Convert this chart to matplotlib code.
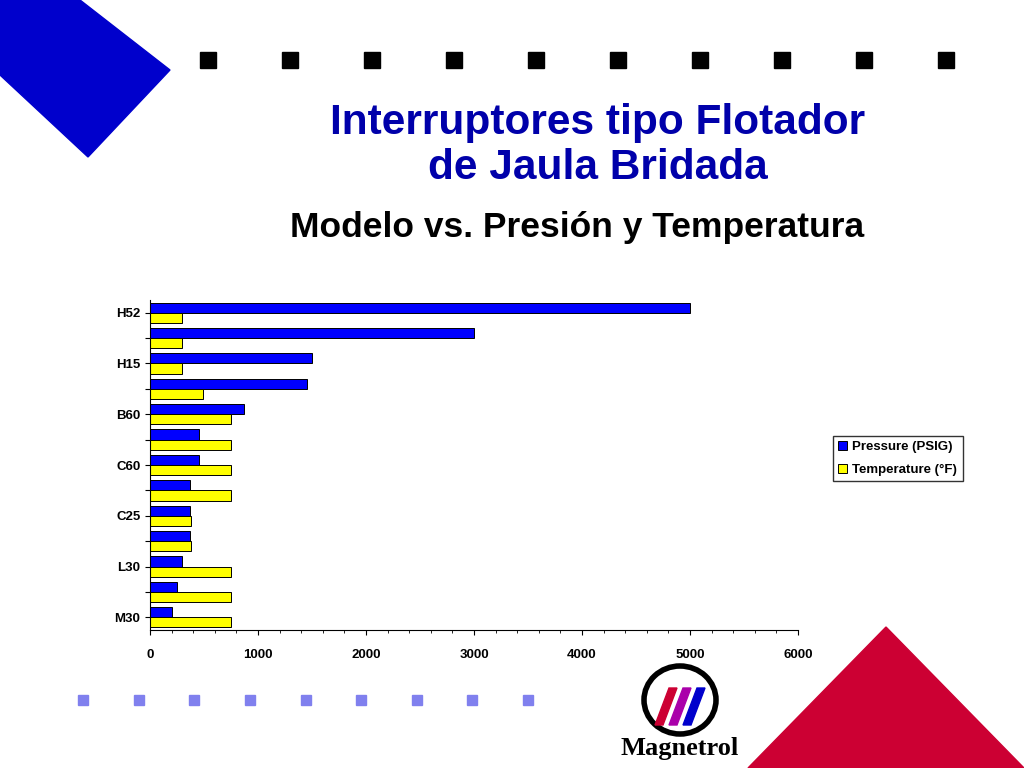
import matplotlib
matplotlib.use("Agg")
import matplotlib.pyplot as plt
import numpy as np
from matplotlib.patches import Polygon, Rectangle, Ellipse

plt.rcParams["font.family"] = "Liberation Sans"

categories = ["H52", "", "H15", "", "B60", "", "C60", "", "C25", "", "L30", "", "M30"]
pressure = [5000, 3000, 1500, 1455, 870, 455, 455, 370, 370, 370, 295, 250, 205]
temperature = [300, 300, 300, 490, 750, 750, 750, 750, 375, 375, 750, 750, 750]

fig = plt.figure(figsize=(10.24, 7.68), dpi=100)
W, H = 1024, 768
def fx(x): return x / W
def fy(y): return 1 - y / H

# decorations
fig.patches.append(Polygon([(fx(0), fy(0)), (fx(80), fy(0)), (fx(170), fy(70)), (fx(88), fy(157)), (fx(0), fy(75))],
                           closed=True, transform=fig.transFigure, color="#0000cc", zorder=0))
fig.patches.append(Polygon([(fx(748), fy(768)), (fx(886), fy(627)), (fx(1024), fy(768))],
                           closed=True, transform=fig.transFigure, color="#cc0033", zorder=0))
for x in np.linspace(208, 946, 10):
    fig.patches.append(Rectangle((fx(x - 8), fy(68)), 16 / W, 16 / H, transform=fig.transFigure, color="black"))
for x in np.linspace(83, 528, 9):
    fig.patches.append(Rectangle((fx(x - 5), fy(705)), 10 / W, 10 / H, transform=fig.transFigure, color="#8080ee"))
fig.patches.append(Ellipse((fx(680), fy(700)), 72 / W, 68 / H, transform=fig.transFigure, fill=False, lw=4, ec="black"))
for i, c in enumerate(["#cc0033", "#aa00aa", "#0000cc"]):
    x0 = 655 + i * 14
    fig.patches.append(Polygon([(fx(x0), fy(725)), (fx(x0 + 8), fy(725)), (fx(x0 + 22), fy(688)), (fx(x0 + 14), fy(688))],
                               closed=True, transform=fig.transFigure, color=c))
fig.text(fx(680), fy(748), "Magnetrol", ha="center", va="center", fontsize=19, fontweight="bold", family="Liberation Serif")

fig.text(fx(598), fy(123), "Interruptores tipo Flotador", ha="center", va="center", fontsize=30.5, fontweight="bold", color="#0000aa")
fig.text(fx(598), fy(168), "de Jaula Bridada", ha="center", va="center", fontsize=30.5, fontweight="bold", color="#0000aa")
fig.text(fx(577), fy(228), "Modelo vs. Presión y Temperatura", ha="center", va="center", fontsize=25.5, fontweight="bold", color="black")

axw = (798 - 150) / W
ax = fig.add_axes([fx(150), fy(630), axw, (630 - 300) / H])
y = np.arange(len(categories))
h = 0.4
ax.barh(y - h / 2, pressure, height=h, color="#0000ff", edgecolor="black", lw=0.7, label="Pressure (PSIG)")
ax.barh(y + h / 2, temperature, height=h, color="#ffff00", edgecolor="black", lw=0.7, label="Temperature (°F)")
ax.set_ylim(len(categories) - 0.5, -0.5)
ax.set_xlim(0, 6000)
ax.set_xticks(range(0, 6001, 1000))
ax.set_xticks(range(0, 6001, 200), minor=True)
ax.set_yticks(y)
ax.set_yticklabels(categories)
ax.tick_params(labelsize=9.5)
ax.tick_params(axis="x", pad=10)
for t in ax.get_xticklabels() + ax.get_yticklabels():
    t.set_fontweight("bold")
ax.spines["top"].set_visible(False)
ax.spines["right"].set_visible(False)
ax.legend(loc="center left", bbox_to_anchor=((826 - 150) / W / axw, 0.52),
          frameon=True, fancybox=False, edgecolor="black", prop={"size": 9.5, "weight": "bold"},
          handlelength=0.7, borderpad=0.4, labelspacing=0.8, handletextpad=0.4)
fig.savefig("out.png", dpi=100)
